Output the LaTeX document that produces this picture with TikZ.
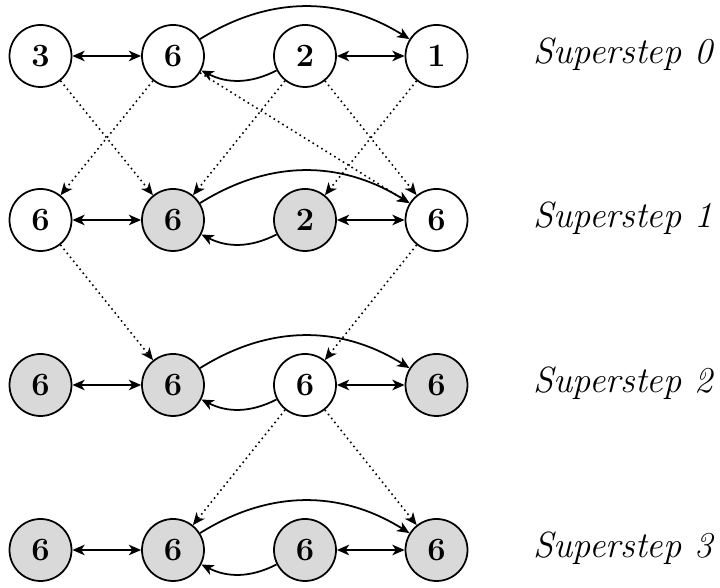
\documentclass[tikz,border=0pt]{standalone}
\usetikzlibrary{arrows.meta}

\begin{document}
\begin{tikzpicture}[
    >={Stealth[length=7pt,width=6pt,inset=2pt]},
    vertex/.style={circle,draw,line width=1pt,fill=white,minimum size=1.24cm,inner sep=0pt,font=\fontsize{18.5}{22}\selectfont\bfseries},
    halted/.style={vertex,fill=black!15},
    msg/.style={->,dotted,line width=.9pt},
    link/.style={<->,line width=1pt},
    arc/.style={->,line width=1pt},
    stepname/.style={font=\huge\itshape,anchor=base}
  ]
  \useasboundingbox (0,0) rectangle (14.4,11.76);
  % superstep 0
  \node[vertex] (a0) at (.81,10.64) {3};
  \node[vertex] (b0) at (3.46,10.64) {6};
  \node[vertex] (c0) at (6.1,10.64) {2};
  \node[vertex] (d0) at (8.73,10.64) {1};
  \node[stepname] (s0) at (12.46,10.48) {Superstep 0};
  % superstep 1
  \node[vertex] (a1) at (.81,7.36) {6};
  \node[halted] (b1) at (3.46,7.36) {6};
  \node[halted] (c1) at (6.1,7.36) {2};
  \node[vertex] (d1) at (8.73,7.36) {6};
  \node[stepname] (s1) at (12.46,7.2) {Superstep 1};
  % superstep 2
  \node[halted] (a2) at (.81,4.06) {6};
  \node[halted] (b2) at (3.46,4.06) {6};
  \node[vertex] (c2) at (6.1,4.06) {6};
  \node[halted] (d2) at (8.73,4.06) {6};
  \node[stepname] (s2) at (12.46,3.9) {Superstep 2};
  % superstep 3
  \node[halted] (a3) at (.81,.76) {6};
  \node[halted] (b3) at (3.46,.76) {6};
  \node[halted] (c3) at (6.1,.76) {6};
  \node[halted] (d3) at (8.73,.76) {6};
  \node[stepname] (s3) at (12.46,.6) {Superstep 3};

  % edges of the graph, the same in every superstep
  \draw[link] (a0) -- (b0);
  \draw[link] (c0) -- (d0);
  \draw[arc] (b0) to[bend left=32] (d0);
  \draw[arc] (c0) to[bend left=27] (b0);
  \draw[link] (a1) -- (b1);
  \draw[link] (c1) -- (d1);
  \draw[arc] (b1) to[bend left=32] (d1);
  \draw[arc] (c1) to[bend left=27] (b1);
  \draw[link] (a2) -- (b2);
  \draw[link] (c2) -- (d2);
  \draw[arc] (b2) to[bend left=32] (d2);
  \draw[arc] (c2) to[bend left=27] (b2);
  \draw[link] (a3) -- (b3);
  \draw[link] (c3) -- (d3);
  \draw[arc] (b3) to[bend left=32] (d3);
  \draw[arc] (c3) to[bend left=27] (b3);

  % messages
  \draw[msg] (a0) -- (b1);
  \draw[msg] (b0) -- (a1);
  \draw[msg] (b0) -- (d1);
  \draw[msg] (c0) -- (b1);
  \draw[msg] (c0) -- (d1);
  \draw[msg] (d0) -- (c1);
  \draw[msg] (a1) -- (b2);
  \draw[msg] (d1) -- (c2);
  \draw[msg] (c2) -- (b3);
  \draw[msg] (c2) -- (d3);
\end{tikzpicture}
\end{document}
